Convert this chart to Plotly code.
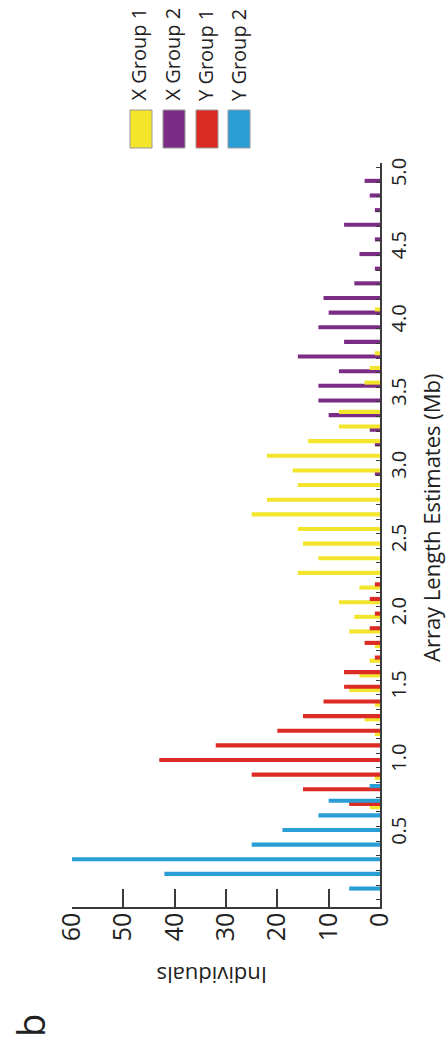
import plotly.graph_objects as go

# ---------------- data ----------------
bin_centers = [0.1, 0.2, 0.3, 0.4, 0.5, 0.6, 0.7, 0.8, 0.9, 1.0,
               1.1, 1.2, 1.3, 1.4, 1.5, 1.6, 1.7, 1.8, 1.9, 2.0,
               2.1, 2.2, 2.3, 2.4, 2.5, 2.6, 2.7, 2.8, 2.9, 3.0,
               3.1, 3.2, 3.3, 3.4, 3.5, 3.6, 3.7, 3.8, 3.9, 4.0,
               4.1, 4.2, 4.3, 4.4, 4.5, 4.6, 4.7, 4.8, 4.9, 5.0]

x_group_1 = [0, 0, 0, 0, 0, 0, 2, 0, 1, 0,
             0, 1, 3, 1, 6, 4, 2, 1, 6, 5,
             8, 4, 16, 12, 15, 16, 25, 22, 16, 17,
             22, 14, 8, 8, 0, 3, 2, 1, 0, 0,
             1, 0, 0, 0, 0, 0, 0, 0, 0, 0]

x_group_2 = [0, 0, 0, 0, 0, 0, 0, 0, 0, 0,
             0, 0, 0, 0, 0, 0, 0, 0, 0, 0,
             0, 0, 0, 0, 0, 0, 0, 0, 0, 1,
             0, 1, 2, 10, 12, 12, 8, 16, 7, 12,
             10, 11, 5, 1, 4, 1, 7, 1, 2, 3]

y_group_1 = [0, 0, 0, 0, 0, 0, 6, 15, 25, 43,
             32, 20, 15, 11, 7, 7, 1, 3, 2, 1,
             2, 1, 0, 0, 0, 0, 0, 0, 0, 0,
             0, 0, 0, 0, 0, 0, 0, 0, 0, 0,
             0, 0, 0, 0, 0, 0, 0, 0, 0, 0]

y_group_2 = [6, 42, 60, 25, 19, 12, 10, 2, 0, 0,
             0, 0, 0, 0, 0, 0, 0, 0, 0, 0,
             0, 0, 0, 0, 0, 0, 0, 0, 0, 0,
             0, 0, 0, 0, 0, 0, 0, 0, 0, 0,
             0, 0, 0, 0, 0, 0, 0, 0, 0, 0]

series_names = ["X Group 1", "X Group 2", "Y Group 1", "Y Group 2"]
individual_ticks = [0, 10, 20, 30, 40, 50, 60]
length_ticks = [0.5, 1.0, 1.5, 2.0, 2.5, 3.0, 3.5, 4.0, 4.5, 5.0]
length_ticktext = ["0.5", "1.0", "1.5", "2.0", "2.5", "3.0", "3.5", "4.0", "4.5", "5.0"]

# ---------------- style / layout ----------------
W, H = 448, 1051
L, R, T, B = 72, 68, 163, 144
PW = W - L - R
PH = H - T - B
PX_PER_MB = 146.4
Y_MAX = PH / PX_PER_MB

FONT = "Open Sans, Lato, DejaVu Sans, sans-serif"
TXT = "#222222"
AX = "#3a3a3a"

COL = {"X Group 1": "#F3E52B", "X Group 2": "#7B2C84",
       "Y Group 1": "#DC2A25", "Y Group 2": "#2A9DD5"}

def px_x(p):
    return (p - L) / PW

def px_y(p):
    return (H - B - p) / PH

BW = 0.028
centers_off = {"X Group 2": -0.040, "X Group 1": -0.018,
               "Y Group 1": 0.004, "Y Group 2": 0.026}

data_map = {"X Group 1": x_group_1, "X Group 2": x_group_2,
            "Y Group 1": y_group_1, "Y Group 2": y_group_2}

fig = go.Figure()
for name in ["X Group 2", "X Group 1", "Y Group 1", "Y Group 2"]:
    fig.add_trace(go.Bar(
        y=bin_centers, x=data_map[name], orientation="h",
        width=BW, offset=centers_off[name] - BW / 2,
        marker=dict(color=COL[name], line=dict(width=0)),
        name=name, showlegend=False,
    ))

annotations = [
    dict(text="Array Length Estimates (Mb)", x=px_x(431), y=px_y(518),
         xref="paper", yref="paper", showarrow=False, textangle=-90,
         font=dict(size=22, family=FONT, color=TXT),
         xanchor="center", yanchor="middle"),
    dict(text="Individuals", x=px_x(212), y=px_y(976),
         xref="paper", yref="paper", showarrow=False, textangle=180,
         font=dict(size=22, family=FONT, color=TXT),
         xanchor="center", yanchor="middle"),
    dict(text="b", x=px_x(2), y=px_y(1026),
         xref="paper", yref="paper", showarrow=False, textangle=-90,
         font=dict(size=38, family=FONT, color=TXT),
         xanchor="left", yanchor="middle"),
]

shapes = []
sw_x = [(130, 152), (163, 185), (196, 218), (228, 250)]
txt_x = [138, 172, 205, 238]
for name, (x0, x1), tx in zip(series_names, sw_x, txt_x):
    shapes.append(dict(type="rect", xref="paper", yref="paper",
                       x0=px_x(x0), x1=px_x(x1), y0=px_y(148), y1=px_y(110),
                       fillcolor=COL[name], line=dict(color="#9a9a9a", width=1)))
    annotations.append(dict(text=name, x=px_x(tx), y=px_y(103),
                            xref="paper", yref="paper", showarrow=False,
                            textangle=-90, font=dict(size=20, family=FONT, color=TXT),
                            xanchor="center", yanchor="bottom"))

fig.update_layout(
    width=W, height=H,
    margin=dict(l=L, r=R, t=T, b=B, pad=0, autoexpand=False),
    paper_bgcolor="white", plot_bgcolor="white",
    barmode="overlay",
    showlegend=False,
    xaxis=dict(range=[60, 0], tickmode="array", tickvals=individual_ticks,
               ticks="inside", ticklen=18, tickwidth=1.5, tickcolor=AX,
               showline=True, linecolor=AX, linewidth=1.5,
               tickangle=-90, tickfont=dict(size=25, family=FONT, color=TXT),
               ticklabelstandoff=-6,
               showgrid=False, zeroline=False),
    yaxis=dict(range=[0, Y_MAX], side="right", tickmode="array",
               tickvals=length_ticks, ticktext=length_ticktext,
               ticks="", showline=True, linecolor=AX, linewidth=1.5,
               tickangle=-90, tickfont=dict(size=20, family=FONT, color=TXT),
               minor=dict(tickmode="linear", tick0=0.05, dtick=0.1,
                          ticks="inside", ticklen=4, tickwidth=1, tickcolor=AX,
                          showgrid=False),
               showgrid=False, zeroline=False),
    annotations=annotations,
    shapes=shapes,
)

fig.write_html("out.html")
